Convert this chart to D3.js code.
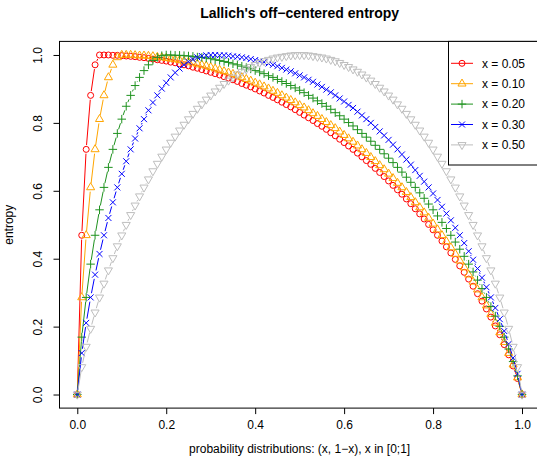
<!DOCTYPE html>
<html>
<head>
<meta charset="utf-8">
<script src="https://d3js.org/d3.v7.min.js"></script>
<style>
  html, body { margin: 0; padding: 0; background: #fff; }
  svg text { font-family: "Liberation Sans", Arial, Helvetica, sans-serif; }
</style>
</head>
<body>
<div class="container"></div>
<script>
var width = 537,
    height = 465;

// probability grid p = 0 .. 1
var probs = [0, 0.01, 0.02, 0.03, 0.04, 0.05, 0.06, 0.07, 0.08, 0.09,
  0.10, 0.11, 0.12, 0.13, 0.14, 0.15, 0.16, 0.17, 0.18, 0.19,
  0.20, 0.21, 0.22, 0.23, 0.24, 0.25, 0.26, 0.27, 0.28, 0.29,
  0.30, 0.31, 0.32, 0.33, 0.34, 0.35, 0.36, 0.37, 0.38, 0.39,
  0.40, 0.41, 0.42, 0.43, 0.44, 0.45, 0.46, 0.47, 0.48, 0.49,
  0.50, 0.51, 0.52, 0.53, 0.54, 0.55, 0.56, 0.57, 0.58, 0.59,
  0.60, 0.61, 0.62, 0.63, 0.64, 0.65, 0.66, 0.67, 0.68, 0.69,
  0.70, 0.71, 0.72, 0.73, 0.74, 0.75, 0.76, 0.77, 0.78, 0.79,
  0.80, 0.81, 0.82, 0.83, 0.84, 0.85, 0.86, 0.87, 0.88, 0.89,
  0.90, 0.91, 0.92, 0.93, 0.94, 0.95, 0.96, 0.97, 0.98, 0.99, 1.00];

var ent05 = [0, .469, .722, .881, .971, 1,
  1.000, 1.000, .999, .999, .998, .997, .996, .995, .993, .992, .990, .988, .986, .984, .982,
  .979, .977, .974, .971, .968, .964, .961, .957, .953, .949,
  .945, .941, .936, .932, .927, .922, .916, .911, .906, .900,
  .894, .888, .881, .875, .868, .861, .854, .847, .839, .831,
  .823, .815, .807, .798, .790, .781, .771, .762, .752, .742,
  .732, .722, .711, .700, .689, .678, .666, .654, .642, .629,
  .616, .603, .590, .576, .562, .547, .532, .517, .501, .485,
  .469, .452, .435, .417, .398, .379, .360, .340, .319, .297,
  .275, .252, .228, .202, .176, .147, .117, .084, .047, 0];

var ent10 = [0, .286, .469, .610, .722, .811, .881, .934, .971, .993, 1,
  1.000, 1.000, .999, .998, .998, .997, .996, .994, .993, .991,
  .989, .987, .985, .982, .980, .977, .974, .971, .968, .964,
  .960, .956, .952, .948, .944, .939, .934, .929, .924, .918,
  .913, .907, .901, .894, .888, .881, .874, .867, .860, .852,
  .845, .837, .828, .820, .811, .802, .793, .784, .774, .764,
  .754, .744, .733, .722, .711, .699, .687, .675, .663, .650,
  .637, .623, .610, .596, .581, .566, .551, .536, .520, .503,
  .486, .469, .451, .433, .414, .394, .374, .353, .332, .309,
  .286, .262, .237, .211, .183, .154, .122, .088, .050, 0];

var ent20 = [0, .169, .286, .384, .469, .544, .610, .669, .722, .769,
  .811, .849, .881, .910, .934, .954, .971, .984, .993, .998, 1,
  1.000, .999, .999, .998, .997, .996, .994, .993, .991, .989,
  .986, .984, .981, .978, .974, .971, .967, .963, .959, .954,
  .950, .945, .939, .934, .928, .922, .916, .910, .903, .896,
  .889, .881, .873, .865, .857, .849, .840, .830, .821, .811,
  .801, .791, .780, .769, .758, .746, .734, .722, .709, .696,
  .683, .669, .655, .640, .625, .610, .594, .578, .561, .544,
  .526, .507, .489, .469, .449, .428, .407, .384, .361, .337,
  .312, .286, .259, .231, .201, .169, .134, .097, .055, 0];

var ent30 = [0, .122, .211, .286, .353, .414, .469, .520, .566, .610,
  .650, .687, .722, .754, .784, .811, .837, .860, .881, .901,
  .918, .934, .948, .960, .971, .980, .987, .993, .997, .999, 1,
  1.000, .999, .999, .998, .996, .995, .993, .991, .988, .985,
  .982, .979, .975, .971, .967, .962, .957, .952, .946, .940,
  .934, .927, .921, .913, .906, .898, .890, .881, .872, .863,
  .853, .844, .833, .822, .811, .800, .788, .775, .763, .750,
  .736, .722, .707, .692, .677, .661, .644, .627, .610, .592,
  .573, .553, .533, .513, .491, .469, .446, .422, .397, .371,
  .344, .316, .286, .255, .222, .187, .149, .108, .061, 0];

var ent50 = [0, .081, .141, .194, .242, .286, .327, .366, .402, .437,
  .469, .500, .529, .557, .584, .610, .634, .658, .680, .701,
  .722, .742, .760, .778, .795, .811, .827, .842, .855, .869,
  .881, .893, .904, .915, .925, .934, .943, .951, .958, .965,
  .971, .977, .982, .986, .990, .993, .995, .997, .999, 1.000, 1,
  1.000, .999, .997, .995, .993, .990, .986, .982, .977, .971,
  .965, .958, .951, .943, .934, .925, .915, .904, .893, .881,
  .869, .855, .842, .827, .811, .795, .778, .760, .742, .722,
  .701, .680, .658, .634, .610, .584, .557, .529, .500, .469,
  .437, .402, .366, .327, .286, .242, .194, .141, .081, 0];

var seriesLabels = ["x = 0.05", "x = 0.10", "x = 0.20", "x = 0.30", "x = 0.50"];
var seriesValues = [ent05, ent10, ent20, ent30, ent50];
var colors = ["#ff0000", "#ffa500", "#1f921f", "#0000ff", "#bebebe"];
var shapes = ["circle", "triUp", "plus", "cross", "triDown"];

var xTicks = [0, 0.2, 0.4, 0.6, 0.8, 1.0];
var yTicks = [0, 0.2, 0.4, 0.6, 0.8, 1.0];

// plot region (R style, 4% padding of the data range)
var plotLeft = 59.5, plotRight = 539.8, plotTop = 41.4, plotBottom = 408.1;

var x = d3.scaleLinear().domain([-0.04, 1.04]).range([plotLeft, plotRight]);
var y = d3.scaleLinear().domain([-0.04, 1.04]).range([plotBottom, plotTop]);

var svg = d3.select('.container')
    .append('svg')
    .attr('xmlns', 'http://www.w3.org/2000/svg')
    .attr('width', width)
    .attr('height', height);

svg.append('rect')
    .attr('width', width).attr('height', height)
    .style('fill', '#fff');

var R0 = 3; // base symbol radius
var gap = 4.3; // type = "b" gap around points

function symbolPath(shape) {
    var r, xc, yc;
    var p = d3.path();
    if (shape === "triUp" || shape === "triDown") {
        r = 1.555 * R0; xc = 1.347 * R0; yc = 0.778 * R0;
        var s = shape === "triUp" ? 1 : -1;
        p.moveTo(0, -s * r);
        p.lineTo(xc, s * yc);
        p.lineTo(-xc, s * yc);
        p.closePath();
    } else if (shape === "plus") {
        r = Math.SQRT2 * R0;
        p.moveTo(-r, 0); p.lineTo(r, 0);
        p.moveTo(0, -r); p.lineTo(0, r);
    } else if (shape === "cross") {
        p.moveTo(-R0, -R0); p.lineTo(R0, R0);
        p.moveTo(-R0, R0); p.lineTo(R0, -R0);
    }
    return p;
}

function drawMarker(g, shape, color, cx, cy) {
    if (shape === "circle") {
        g.append('circle')
            .attr('cx', cx).attr('cy', cy).attr('r', R0)
            .style('fill', 'none').style('stroke', color).style('stroke-width', 1);
    } else {
        g.append('path')
            .attr('d', symbolPath(shape).toString())
            .attr('transform', 'translate(' + cx + ',' + cy + ')')
            .style('fill', 'none').style('stroke', color).style('stroke-width', 1);
    }
}

var plot = svg.append('g').attr('class', 'plot');

seriesValues.forEach(function (vals, si) {
    var g = plot.append('g').attr('class', 'series');
    var pts = probs.map(function (p, i) { return [x(p), y(vals[i])]; });
    // line segments with gaps around the points
    for (var i = 0; i < pts.length - 1; i++) {
        var dx = pts[i + 1][0] - pts[i][0],
            dy = pts[i + 1][1] - pts[i][1];
        var d = Math.sqrt(dx * dx + dy * dy);
        if (d > 2 * gap) {
            var ux = dx / d, uy = dy / d;
            g.append('line')
                .attr('x1', pts[i][0] + ux * gap).attr('y1', pts[i][1] + uy * gap)
                .attr('x2', pts[i + 1][0] - ux * gap).attr('y2', pts[i + 1][1] - uy * gap)
                .style('stroke', colors[si]).style('stroke-width', 1);
        }
    }
    pts.forEach(function (pt) {
        drawMarker(g, shapes[si], colors[si], pt[0], pt[1]);
    });
});

// box
svg.append('rect')
    .attr('x', plotLeft).attr('y', plotTop)
    .attr('width', plotRight - plotLeft).attr('height', plotBottom - plotTop)
    .style('fill', 'none').style('stroke', '#000').style('stroke-width', 1);

// axes
var xAxis = svg.append('g')
    .attr('transform', 'translate(0,' + plotBottom + ')')
    .call(d3.axisBottom(x).tickValues(xTicks).tickFormat(d3.format('.1f')).tickSize(6).tickPadding(6));
xAxis.select('.domain').remove();
xAxis.selectAll('text').style('font-size', '12px').style('fill', '#000')
    .style('font-family', '"Liberation Sans", Arial, sans-serif');

var yAxis = svg.append('g')
    .attr('transform', 'translate(' + plotLeft + ',0)')
    .call(d3.axisLeft(y).tickValues(yTicks).tickFormat(d3.format('.1f')).tickSize(6));
yAxis.select('.domain').remove();
yAxis.selectAll('text')
    .attr('transform', 'rotate(-90)')
    .attr('x', 0).attr('y', -21.5).attr('dy', '0.35em')
    .style('text-anchor', 'middle')
    .style('font-size', '12px').style('fill', '#000')
    .style('font-family', '"Liberation Sans", Arial, sans-serif');

// titles
svg.append('text')
    .attr('x', (plotLeft + plotRight) / 2).attr('y', 18)
    .style('text-anchor', 'middle')
    .style('font-size', '14px').style('font-weight', 'bold')
    .text('Lallich\'s off\u2212centered entropy');

svg.append('text')
    .attr('x', (plotLeft + plotRight) / 2).attr('y', 453)
    .style('text-anchor', 'middle')
    .style('font-size', '12px')
    .text('probability distributions: (x, 1\u2212x), x in [0;1]');

svg.append('text')
    .attr('transform', 'translate(13,' + ((plotTop + plotBottom) / 2) + ') rotate(-90)')
    .style('text-anchor', 'middle')
    .style('font-size', '12px')
    .text('entropy');

// legend
var legend = svg.append('g').attr('class', 'legend');
legend.append('rect')
    .attr('x', 448.5).attr('y', plotTop)
    .attr('width', plotRight - 448.5).attr('height', 165 - plotTop)
    .style('fill', '#fff').style('stroke', '#000').style('stroke-width', 1);

seriesLabels.forEach(function (lab, i) {
    var ly = 63.3 + i * 20.4;
    legend.append('line')
        .attr('x1', 451).attr('x2', 473).attr('y1', ly).attr('y2', ly)
        .style('stroke', colors[i]).style('stroke-width', 1);
    drawMarker(legend, shapes[i], colors[i], 462, ly);
    legend.append('text')
        .attr('x', 482).attr('y', ly).attr('dy', '0.35em')
        .style('font-size', '12px')
        .text(lab);
});
</script>
</body>
</html>
